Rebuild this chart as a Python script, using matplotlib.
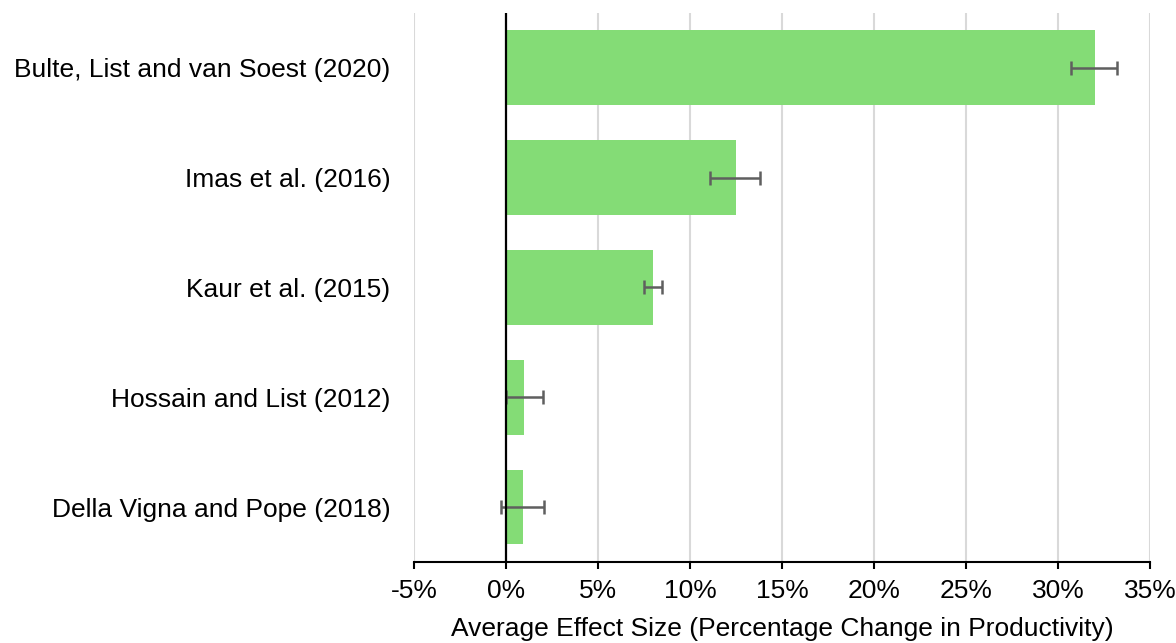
import matplotlib.pyplot as plt
from matplotlib.ticker import FuncFormatter

plt.rcParams['font.family'] = ['Liberation Sans', 'DejaVu Sans']

# 数据（从下到上）
studies = ["Della Vigna and Pope (2018)", "Hossain and List (2012)",
           "Kaur et al. (2015)", "Imas et al. (2016)",
           "Bulte, List and van Soest (2020)"]
effect = [0.9, 1.0, 8.0, 12.5, 32.0]
err_lo = [1.15, 1.0, 0.5, 1.4, 1.3]
err_hi = [1.15, 1.0, 0.5, 1.3, 1.2]
x_ticks = list(range(-5, 40, 5))

fig = plt.figure(figsize=(11.76, 6.43), dpi=100)
ax = fig.add_axes([0.352, 0.126, 0.626, 0.854])

ax.barh(range(len(studies)), effect, height=0.68, color="#84dc76", zorder=2,
        xerr=[err_lo, err_hi], error_kw=dict(ecolor="#5f5f5f", elinewidth=1.8,
                                             capsize=5, capthick=1.8, zorder=3))
ax.axvline(0, color="black", lw=1.6, zorder=4)

ax.set_xlim(-5, 35)
ax.set_ylim(-0.5, 4.5)
ax.set_xticks(x_ticks)
ax.xaxis.set_major_formatter(FuncFormatter(lambda v, p: "{:.0f}%".format(v)))
ax.set_yticks(range(len(studies)))
ax.set_yticklabels(studies)

ax.grid(axis="x", color="#d9d9d9", lw=1.5, zorder=0)
for s in ["top", "right", "left"]:
    ax.spines[s].set_visible(False)
ax.spines["bottom"].set_linewidth(1.5)
ax.tick_params(axis="x", length=5, width=1.5, labelsize=19, pad=7)
ax.tick_params(axis="y", length=0, labelsize=19, pad=17)
ax.set_xlabel("Average Effect Size (Percentage Change in Productivity)", fontsize=19, labelpad=10)

plt.savefig("out.png")
